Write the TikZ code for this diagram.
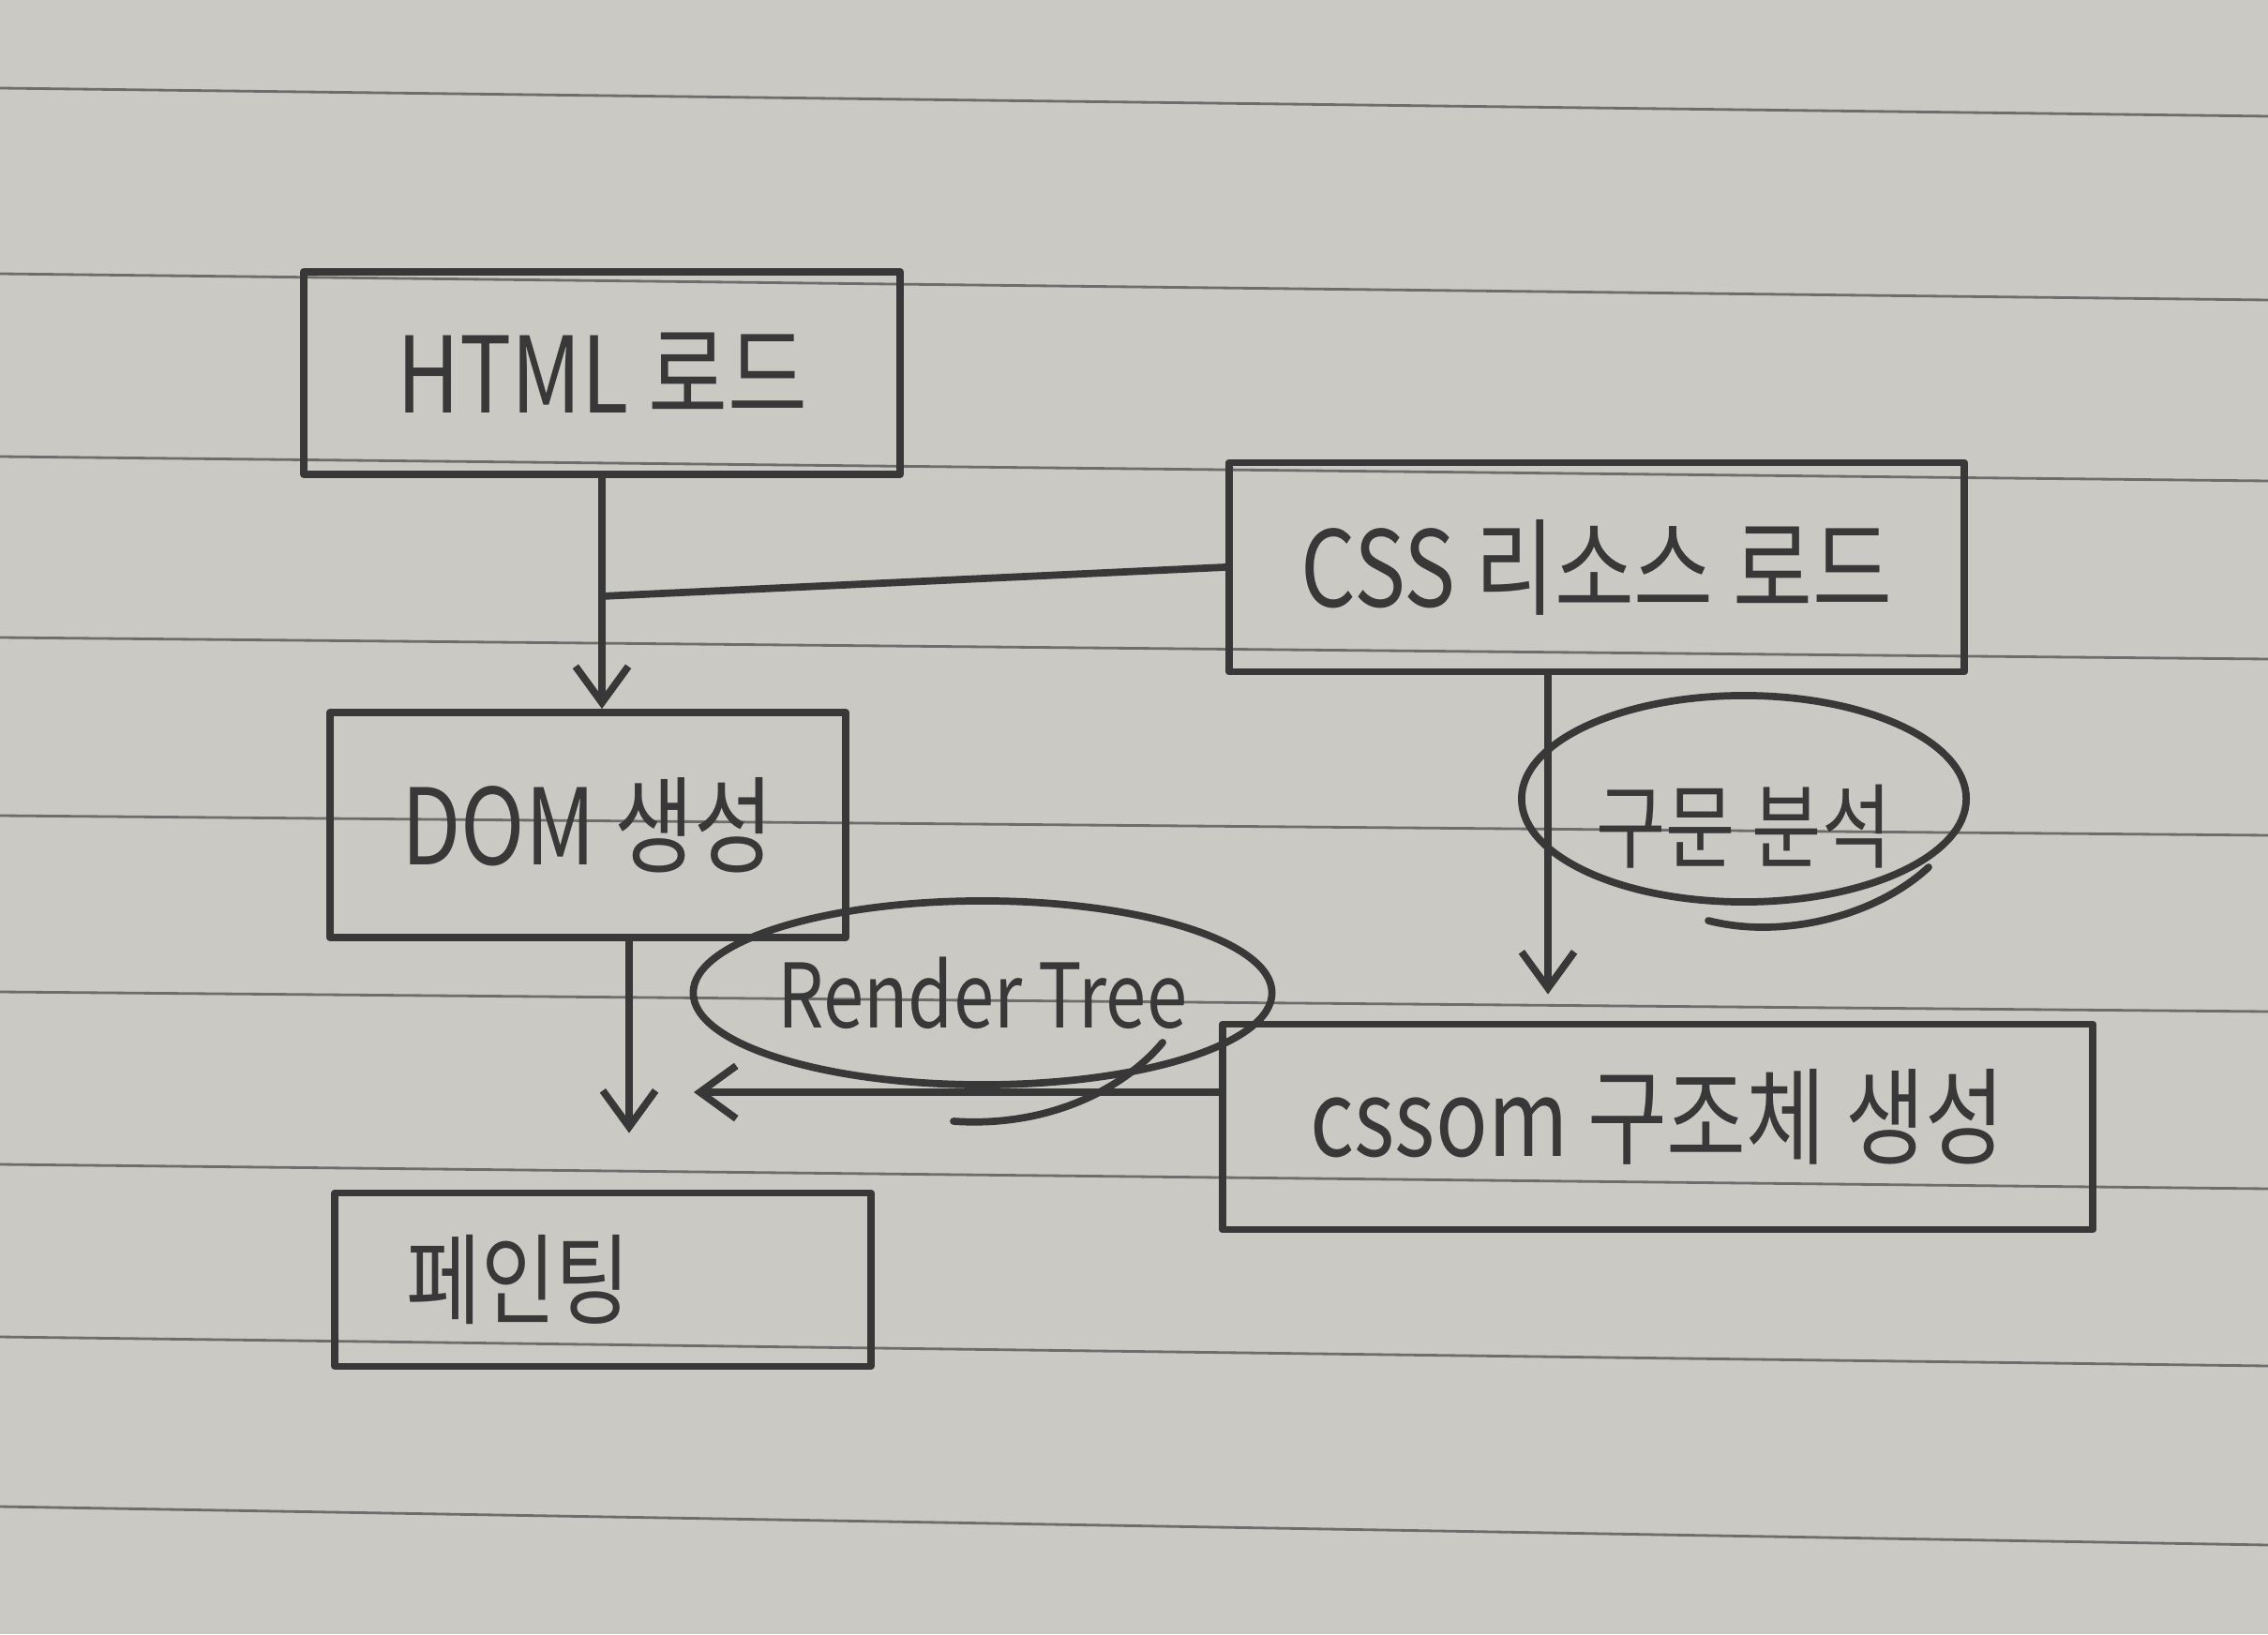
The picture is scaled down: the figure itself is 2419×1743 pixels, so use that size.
\documentclass[tikz,border=0pt]{standalone}
\usepackage{fontspec}
\newfontfamily\hand[FakeStretch=0.82]{Noto Sans CJK KR}
\usetikzlibrary{arrows.meta,shapes.geometric,calc}
\definecolor{paper}{HTML}{CBC9C4}
\definecolor{rule}{HTML}{6E6D6B}
\definecolor{pencil}{HTML}{383838}
\begin{document}
\begin{tikzpicture}[x=0.01cm,y=-0.01cm,
  pen/.style={draw=pencil, line width=2.2pt, line cap=round, line join=round},
  box/.style={pen, rectangle, inner sep=0pt, text=pencil, font=\hand\fontsize{32}{38}\selectfont},
  oval/.style={pen, ellipse, inner sep=0pt, text=pencil},
  arr/.style={pen, -{Straight Barb[length=11pt,width=16pt,line width=2.2pt]}},
  ruleline/.style={draw=rule, line width=0.8pt}
]
\fill[paper] (0,0) rectangle (2419,1743);
\useasboundingbox (0,0) rectangle (2419,1743);
\foreach \a/\b in {94/124, 292/320, 487/513, 680/703, 870/891, 1058/1079, 1242/1268, 1426/1457, 1607/1648}
  \draw[ruleline] (0,\a) -- (2419,\b);

\node[box, minimum width=6.36cm, minimum height=2.16cm] (html) at (642,398) {HTML 로드};
\node[box, minimum width=7.84cm, minimum height=2.23cm] (css) at (1703,605) {CSS 리소스 로드};
\node[box, minimum width=5.5cm, minimum height=2.4cm] (dom) at (627,880) {DOM 생성};
\node[box, minimum width=9.28cm, minimum height=2.19cm] (cssom) at (1768,1202) {cssom 구조체 생성\raisebox{0pt}[0pt][0.3cm]{}};
\node[box, minimum width=5.71cm, minimum height=1.85cm, font=\hand\fontsize{30}{36}\selectfont] (paint) at (643,1365) {페인팅\hspace*{1.8cm}};
\node[oval, minimum width=4.74cm, minimum height=2.2cm, font=\hand\fontsize{28}{34}\selectfont] (parse) at (1860,852) {구문 분석\raisebox{0pt}[1.4cm][0pt]{}};
\node[oval, minimum width=5.63cm, minimum height=1.96cm, font=\hand\fontsize{27}{32}\selectfont] (rt) at (1048,1059) {Render Tree};

% overlapping pencil strokes that close the two ovals
\draw[pen] (1822,982) .. controls (1900,1002) and (2000,978) .. (2057,925);
\draw[pen] (1017,1196) .. controls (1120,1203) and (1200,1160) .. (1240,1112);

\coordinate (join) at (html.south |- 0,636);
\coordinate (rtend) at (740,1165);

\draw[arr] (html.south) -- (html.south |- dom.north);
\draw[pen] (css.west) -- (join);
\draw[arr, shorten >=0.28cm] (css.south -| 1651,0) -- (cssom.north -| 1651,0);
\draw[arr, shorten >=0.6cm] (dom.south -| 671,0) -- (paint.north -| 671,0);
\draw[arr] (cssom.west |- rtend) -- (rtend);
\end{tikzpicture}
\end{document}
